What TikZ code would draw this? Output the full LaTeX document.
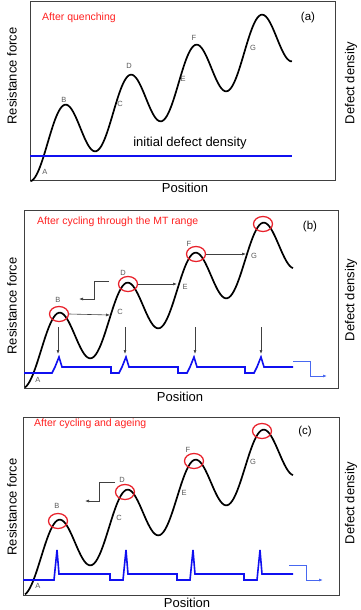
\documentclass[tikz,border=0pt]{standalone}
\usepackage{fontspec}
\setmainfont{Liberation Sans}
\usetikzlibrary{arrows.meta,shapes.geometric}
\definecolor{redtxt}{HTML}{FF2020}
\definecolor{ringred}{HTML}{E8202A}
\definecolor{defblue}{HTML}{1010F0}
\definecolor{lightblue}{HTML}{4868F0}

\begin{document}
\begin{tikzpicture}[x=1pt,y=-1pt,
  frame/.style={draw=black!75,line width=1.0},
  curve/.style={black,line width=1.7},
  defline/.style={defblue,line width=1.6},
  ring/.style={draw=ringred,line width=1.25,ellipse,inner sep=0,minimum width=19,minimum height=15},
  lab/.style={text=black!65,font=\fontsize{7.5}{8}\selectfont,inner sep=0},
  note/.style={text=redtxt,anchor=west,font=\fontsize{10.5}{12}\selectfont,inner sep=0},
  tag/.style={font=\fontsize{11.5}{13}\selectfont,inner sep=0},
  axlab/.style={font=\fontsize{13}{15}\selectfont,inner sep=0},
  arr/.style={black!75,line width=0.6,-{Latex[length=4pt,width=3pt]}},
  bluearr/.style={lightblue,line width=0.8,-{Latex[length=4pt,width=3pt]}}]
  \useasboundingbox (0,0) rectangle (360,610);

  % (a) after quenching
  \draw[frame] (30,2) rectangle (335,180);
  \draw[curve] plot[domain=30.5:292,samples=160,smooth] (\x,{135.5-0.458*(\x-64)-30.5*cos(5.4962*(\x-64))});
  \draw[defline] (30,156) -- (292,156);
  \node[note] (qa) at (42,18) {After quenching};
  \node[tag] (ta) at (308,18) {(a)};
  \node[axlab] (ida) at (190,143) {initial defect density};
  \node[axlab] (posa) at (185,188) {Position};
  \node[axlab,rotate=90] (rfa) at (12,76) {Resistance force};
  \node[axlab,rotate=90] (dda) at (351,83) {Defect density};
  \foreach \n/\x/\y in {A/45/172,B/64/100,C/120/104,D/129/66,E/183/79,F/194/38,G/253/48}
    \node[lab] (a\n) at (\x,\y) {\n};

  % (b) after cycling
  \draw[frame] (24,210) rectangle (338,388);
  \draw[curve] plot[domain=25:293,samples=160,smooth] (\x,{343-0.4412*(\x-58)-30*cos(5.2941*(\x-58))});
  \draw[defline] (24,373) -- (52,373) -- (55,367) -- (59,357) -- (62,367) -- (111,367) -- (111,373)
    -- (119,373) -- (122,367) -- (126,357) -- (129,367) -- (178,367) -- (178,373)
    -- (187,373) -- (190,367) -- (194,357) -- (197,367) -- (245,367) -- (245,373)
    -- (254,373) -- (257,367) -- (261,357) -- (264,367) -- (293,367);
  \coordinate (sb0) at (293,361);
  \coordinate (sb1) at (327,376);
  \draw[bluearr] (sb0) -- ++(17,0) |- (sb1);
  \node[note] (qb) at (37,222) {After cycling through the MT range};
  \node[tag] (tb) at (310,227) {(b)};
  \node[axlab] (posb) at (180,397) {Position};
  \node[axlab,rotate=90] (rfb) at (12,306) {Resistance force};
  \node[axlab,rotate=90] (ddb) at (351,300) {Defect density};
  \foreach \n/\x/\y in {A/38/380,B/58/300,C/120/312,D/123/273,E/185/287,F/189/244,G/254/256}
    \node[lab] (b\n) at (\x,\y) {\n};
  \foreach \n/\x/\y in {B/59/314,D/128/284,F/196/254,G/263/224}
    \node[ring] (rb\n) at (\x,\y) {};
  \coordinate (hC) at (110,315);
  \coordinate (hE) at (177,284);
  \coordinate (hG) at (246,254);
  \draw[arr] (rbB.east) -- (hC);
  \draw[arr] (rbD.east) -- (hE);
  \draw[arr] (rbF.east) -- (hG);
  \foreach \x [count=\i] in {58,125,195,261} {
    \coordinate (up\i) at (\x,327);
    \coordinate (dn\i) at (\x,354);
    \draw[arr] (up\i) -- (dn\i);
  }
  \coordinate (kb0) at (109,281);
  \coordinate (kb1) at (79,299);
  \draw[arr] (kb0) -- ++(-15,0) |- (kb1);

  % (c) after cycling and ageing
  \draw[frame] (23,417) rectangle (339,595);
  \draw[curve] plot[domain=25:293,samples=160,smooth] (\x,{550-0.4412*(\x-58)-30*cos(5.2941*(\x-58))});
  \draw[defline] (23,580) -- (54,580) -- (57,550) -- (59,574) -- (110,574) -- (110,580)
    -- (123,580) -- (126,550) -- (128,574) -- (177,574) -- (177,580)
    -- (190,580) -- (193,550) -- (195,574) -- (244,574) -- (244,580)
    -- (257,580) -- (260,550) -- (262,574) -- (293,574);
  \coordinate (sc0) at (289,565);
  \coordinate (sc1) at (323,580);
  \draw[bluearr] (sc0) -- ++(17,0) |- (sc1);
  \node[note] (qc) at (34,424) {After cycling and ageing};
  \node[tag] (tc) at (305,432) {(c)};
  \node[axlab] (posc) at (187,603) {Position};
  \node[axlab,rotate=90] (rfc) at (12,507) {Resistance force};
  \node[axlab,rotate=90] (ddc) at (351,503) {Defect density};
  \foreach \n/\x/\y in {A/38/586,B/57/506,C/119/518,D/122/480,E/184/493,F/188/450,G/253/462}
    \node[lab] (c\n) at (\x,\y) {\n};
  \foreach \n/\x/\y in {B/58/521,D/125/492,F/194/461,G/262/431}
    \node[ring] (rc\n) at (\x,\y) {};
  \coordinate (kc0) at (115,482);
  \coordinate (kc1) at (85,501);
  \draw[arr] (kc0) -- ++(-16,0) |- (kc1);
\end{tikzpicture}
\end{document}
